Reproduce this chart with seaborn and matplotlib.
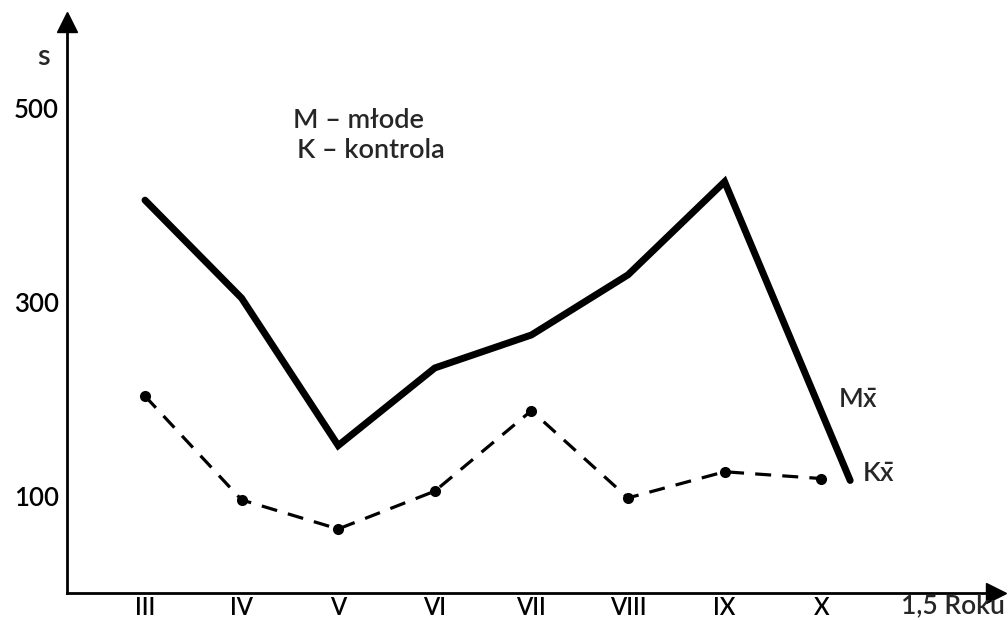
import matplotlib
matplotlib.use("Agg")
import matplotlib.pyplot as plt
import seaborn as sns
import pandas as pd

# ---- data ----
months = ["III", "IV", "V", "VI", "VII", "VIII", "IX", "X"]
k_values = [203, 96, 66, 105, 188, 98, 125, 118]          # K - kontrola
m_values = [405, 304, 152, 232, 266, 328, 424, 116]       # M - młode
m_positions = [0, 1, 2, 3, 4, 5, 6, 7.3]                  # M line ends slightly past X
y_ticks = [100, 300, 500]

sns.set_theme(style="white")
plt.rcParams["font.family"] = ["Lato", "DejaVu Sans"]
plt.rcParams["font.weight"] = "semibold"
plt.rcParams["mathtext.default"] = "regular"

fig = plt.figure(figsize=(10.08, 6.2), dpi=100)
ax = fig.add_axes([67 / 1008, (620 - 593) / 620, (996 - 67) / 1008, (593 - 22) / 620])

df_k = pd.DataFrame({"x": list(range(len(months))), "v": k_values})
df_m = pd.DataFrame({"x": m_positions, "v": m_values})

sns.lineplot(data=df_m, x="x", y="v", ax=ax, color="black", linewidth=5,
             solid_joinstyle="miter", solid_capstyle="round")
sns.lineplot(data=df_k, x="x", y="v", ax=ax, color="black", linewidth=2.3,
             marker="o", markersize=8, markeredgewidth=0,
             dashes=False, linestyle=(0, (5, 3.5)))

ax.set_xlim(-(145 - 67) / 96.6, (996 - 145) / 96.6)
ax.set_ylim(0, (593 - 22) / 0.97)

ax.set_xticks(range(len(months)))
ax.set_xticklabels(months)
ax.set_yticks(y_ticks)
ax.set_yticklabels([str(t) for t in y_ticks])
ax.tick_params(axis="both", direction="in", length=7, width=1.6, colors="black",
               labelsize=18.5)
ax.tick_params(axis="x", pad=2, labelsize=17)
ax.tick_params(axis="y", pad=6)
ax.set_xlabel("")
ax.set_ylabel("")

for side in ["top", "right"]:
    ax.spines[side].set_visible(False)
for side in ["left", "bottom"]:
    ax.spines[side].set_linewidth(2)
    ax.spines[side].set_color("black")

# arrow heads
ax.plot(1, 0, marker=">", color="black", markersize=14, transform=ax.transAxes, clip_on=False)
ax.plot(0, 1, marker="^", color="black", markersize=14, transform=ax.transAxes, clip_on=False)

# axis labels
fig.text(43 / 1008, 1 - 57 / 620, "s", fontsize=21, ha="center", va="center")
fig.text(1005 / 1008, 1 - 606 / 620, "1,5 Roku", fontsize=19, ha="right", va="center")

# legend text
fig.text(293 / 1008, 1 - 120 / 620, "M – młode", fontsize=19.5, ha="left", va="center")
fig.text(297 / 1008, 1 - 151 / 620, "K – kontrola", fontsize=19.5, ha="left", va="center")

# line labels
fig.text(838 / 1008, 1 - 400 / 620, r"M$\bar{x}$", fontsize=19, ha="left", va="center")
fig.text(862 / 1008, 1 - 475 / 620, r"K$\bar{x}$", fontsize=19, ha="left", va="center")

fig.savefig("out.png", dpi=100)
